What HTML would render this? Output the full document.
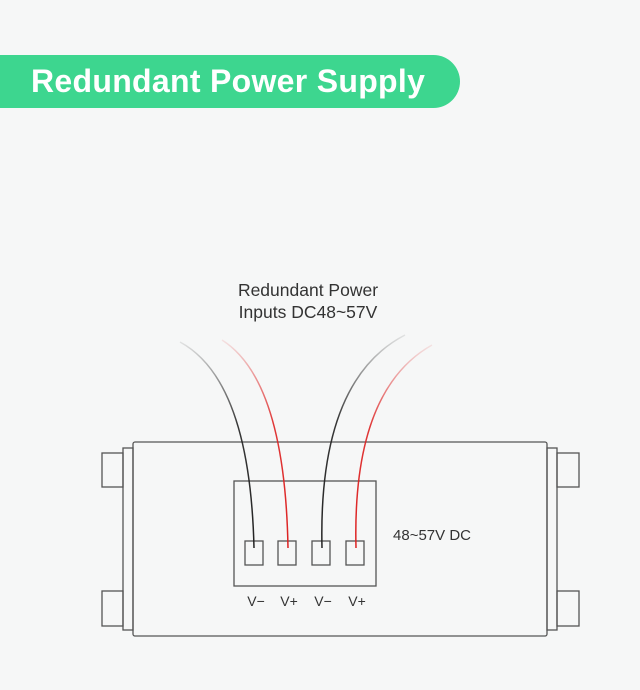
<!DOCTYPE html>
<html><head><style>
body{margin:0;width:640px;height:690px;background:#f6f7f7;overflow:hidden;font-family:"Liberation Sans",sans-serif;}
.banner{position:absolute;left:0;top:55px;width:460px;height:53px;background:#3dd68f;border-radius:0 27px 27px 0;}
.banner span{position:absolute;left:31px;top:8px;color:#fff;font-size:32px;font-weight:bold;letter-spacing:0.3px;white-space:nowrap;}
svg{position:absolute;left:0;top:0;}
</style></head><body>
<div class="banner"><span>Redundant Power Supply</span></div>
<svg width="640" height="690" viewBox="0 0 640 690">
<defs>
<linearGradient id="gk" x1="0" y1="0" x2="0" y2="1"><stop offset="0" stop-color="#222" stop-opacity="0.1"/><stop offset="0.4" stop-color="#222" stop-opacity="0.9"/><stop offset="1" stop-color="#222"/></linearGradient>
<linearGradient id="gr" x1="0" y1="0" x2="0" y2="1"><stop offset="0" stop-color="#d22" stop-opacity="0.1"/><stop offset="0.4" stop-color="#d22" stop-opacity="0.9"/><stop offset="1" stop-color="#d22"/></linearGradient>
</defs>
<g fill="none" stroke="#555" stroke-width="1.3">
<rect x="133" y="442" width="414" height="194" rx="2"/>
<rect x="123" y="448" width="10" height="182"/>
<rect x="547" y="448" width="10" height="182"/>
<rect x="102" y="453" width="21" height="34"/>
<rect x="102" y="591" width="21" height="35"/>
<rect x="557" y="453" width="22" height="34"/>
<rect x="557" y="591" width="22" height="35"/>
<rect x="234" y="481" width="142" height="105"/>
<rect x="245" y="541" width="18" height="24"/>
<rect x="278" y="541" width="18" height="24"/>
<rect x="312" y="541" width="18" height="24"/>
<rect x="346" y="541" width="18" height="24"/>
</g>
<g fill="none" stroke-width="1.5">
<path d="M180 342 Q250 380 254 548" stroke="url(#gk)"/>
<path d="M222 340 Q285 380 288 548" stroke="url(#gr)"/>
<path d="M405 335 Q318 380 322 548" stroke="url(#gk)"/>
<path d="M432 345 Q352 390 356 548" stroke="url(#gr)"/>
</g>
<g font-family="Liberation Sans, sans-serif" fill="#333" font-size="17.5" text-anchor="middle">
<text x="308" y="296">Redundant Power</text>
<text x="308" y="318">Inputs DC48~57V</text>
<text x="256" y="606" font-size="14">V−</text>
<text x="289" y="606" font-size="14">V+</text>
<text x="323" y="606" font-size="14">V−</text>
<text x="357" y="606" font-size="14">V+</text>
<text x="432" y="540" font-size="15">48~57V DC</text>
</g>
</svg>
</body></html>
